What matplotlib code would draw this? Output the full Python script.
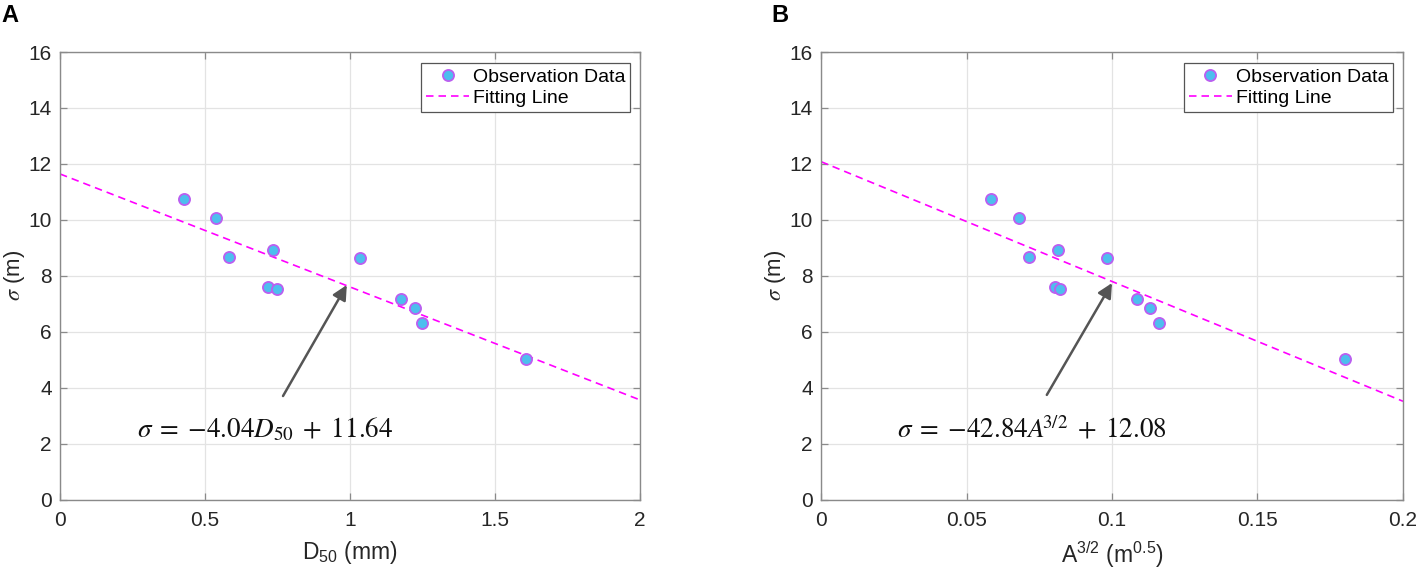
import matplotlib
matplotlib.use('Agg')
import matplotlib.pyplot as plt
import numpy as np

plt.rcParams['font.family'] = ['Liberation Sans', 'DejaVu Sans']
plt.rcParams['mathtext.fontset'] = 'stix'

# observation data
d50 = [0.428, 0.537, 0.582, 0.734, 0.718, 0.747, 1.036, 1.175, 1.224, 1.249, 1.608]
a32 = [0.0584, 0.0680, 0.0715, 0.0814, 0.0805, 0.0820, 0.0983, 0.1087, 0.1131, 0.1162, 0.1800]
sigma = [10.75, 10.08, 8.68, 8.93, 7.61, 7.52, 8.63, 7.16, 6.86, 6.30, 5.03]

# fitted lines: sigma = slope * x + icpt
fit_a = (-4.04, 11.64)
fit_b = (-42.84, 12.08)

xlim_a = (0, 2)
xlim_b = (0, 0.2)
xticks_a = [0, 0.5, 1, 1.5, 2]
xticks_b = [0, 0.05, 0.1, 0.15, 0.2]
yticks = [0, 2, 4, 6, 8, 10, 12, 14, 16]

fig = plt.figure(figsize=(14.18, 5.72), dpi=100)
ax1 = fig.add_axes([60/1418, 72.5/572, 580/1418, 447.5/572])
ax2 = fig.add_axes([821/1418, 72.5/572, 582/1418, 447.5/572])

def style(ax, xlim, xticks, xlabel):
    ax.set_xlim(*xlim)
    ax.set_ylim(0, 16)
    ax.set_xticks(xticks)
    ax.set_xticklabels(['%g' % t for t in xticks])
    ax.set_yticks(yticks)
    ax.grid(True, color='#e3e3e3', lw=0.9)
    ax.set_axisbelow(True)
    for s in ax.spines.values():
        s.set_color('#8a8a8a')
        s.set_linewidth(1.0)
    ax.tick_params(direction='in', length=5, width=0.9, color='#8a8a8a',
                   top=True, right=True, labelsize=15, labelcolor='#262626')
    ax.tick_params(axis='x', pad=8)
    ax.tick_params(axis='y', pad=6)
    ax.set_xlabel(xlabel, fontsize=16.5, color='#262626', labelpad=7)
    ax.set_ylabel(r'$\mathit{\sigma}$ (m)', fontsize=16, color='#262626', labelpad=1)

def draw(ax, x, fit, xlim, tip, tail, eq, eqpos):
    ax.plot(x, sigma, 'o', ms=8, mfc='#4dbeee', mec='#bb5ef0', mew=1.3,
            ls='none', label='Observation Data', zorder=3)
    xx = np.array(xlim)
    ax.plot(xx, fit[0] * xx + fit[1], '--', color='#ff00ff', lw=1.2,
            dashes=(4.5, 3), label='Fitting Line', zorder=2)
    ax.annotate('', xy=tip, xytext=tail,
                arrowprops=dict(arrowstyle='-|>', color='#555555', lw=1.8,
                                mutation_scale=22, shrinkA=0, shrinkB=0))
    ax.text(eqpos[0], eqpos[1], eq, fontsize=19.5, ha='left', va='center',
            color='#111111')
    leg = ax.legend(loc='upper right', bbox_to_anchor=(0.983, 0.975),
                    fontsize=14, frameon=True, fancybox=False, framealpha=1,
                    edgecolor='#555555', handlelength=2.2, handletextpad=0.2,
                    borderpad=0.25, labelspacing=0.2, borderaxespad=0)
    leg.get_frame().set_linewidth(0.9)

style(ax1, xlim_a, xticks_a, r'$\mathregular{D_{50}}$ (mm)')
style(ax2, xlim_b, xticks_b, r'$\mathregular{A^{3/2}}$ ($\mathregular{m^{0.5}}$)')

draw(ax1, d50, fit_a, xlim_a, (0.989, 7.67), (0.769, 3.70),
     r'$\sigma\;=\;{-}4.04D_{50}\;+\;11.64$', (0.264, 2.49))
draw(ax2, a32, fit_b, xlim_b, (0.1, 7.74), (0.0776, 3.74),
     r'$\sigma\;=\;{-}42.84A^{\!\!3/2}\;+\;12.08$', (0.026, 2.49))

fig.text(1/1418, 1 - 4/572, 'A', fontsize=17, fontweight='bold', va='top', ha='left')
fig.text(771/1418, 1 - 4/572, 'B', fontsize=17, fontweight='bold', va='top', ha='left')

fig.savefig('out.png', dpi=100)
